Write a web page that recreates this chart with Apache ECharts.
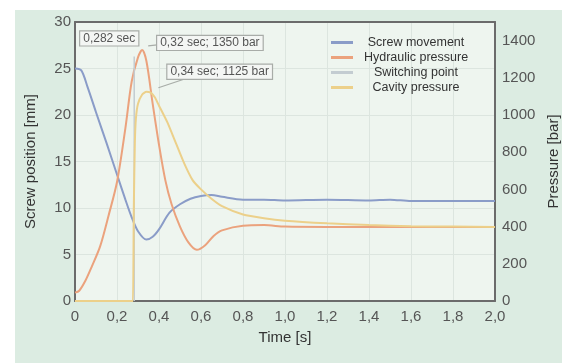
<!DOCTYPE html>
<html>
<head>
<meta charset="utf-8">
<script src="https://cdn.jsdelivr.net/npm/echarts@6/dist/echarts.min.js"></script>
<style>
  html, body { margin: 0; padding: 0; background: #fff; }
  #chart { width: 562px; height: 363px; }
</style>
</head>
<body>
<div id="chart"></div>
<script>
const screwT = [0, 0.03, 0.06, 0.1, 0.15, 0.2, 0.24, 0.27, 0.3, 0.34, 0.37, 0.4, 0.45, 0.5, 0.55, 0.6, 0.65, 0.7, 0.8, 0.9, 1.0, 1.2, 1.4, 1.5, 1.6, 1.8, 2.0];
const screwMm = [25, 24.8, 23, 20.3, 17, 13.6, 10.9, 9.0, 7.5, 6.6, 6.9, 7.7, 9.5, 10.4, 11.0, 11.3, 11.4, 11.2, 10.9, 10.9, 10.8, 10.9, 10.8, 10.9, 10.75, 10.75, 10.75];

const hydT = [0, 0.02, 0.05, 0.08, 0.12, 0.16, 0.2, 0.24, 0.27, 0.3, 0.32, 0.34, 0.37, 0.4, 0.43, 0.46, 0.5, 0.54, 0.58, 0.62, 0.66, 0.7, 0.8, 0.9, 1.0, 1.2, 1.5, 2.0];
const hydBar = [45, 55, 110, 185, 295, 460, 640, 930, 1180, 1310, 1350, 1290, 1060, 840, 650, 520, 400, 315, 275, 300, 350, 380, 405, 408, 400, 398, 398, 398];

const cavT = [0, 0.27, 0.276, 0.28, 0.285, 0.29, 0.3, 0.32, 0.34, 0.36, 0.38, 0.4, 0.44, 0.48, 0.52, 0.56, 0.6, 0.65, 0.7, 0.8, 0.9, 1.0, 1.2, 1.4, 1.6, 1.8, 2.0];
const cavBar = [0, 0, 0, 500, 850, 980, 1060, 1110, 1125, 1120, 1095, 1050, 960, 850, 740, 650, 600, 550, 510, 465, 445, 432, 418, 408, 402, 400, 398];

const switchT = [0.282, 0.282];
const switchMm = [0, 26.3];

const seriesNames = ["Screw movement", "Hydraulic pressure", "Switching point", "Cavity pressure"];
const colors = ["#8a9cc8", "#eba27d", "#c3ccd1", "#ecd08a"];

// callouts: anchor in data coords, box offset and pointer ends in px
const notes = [
  { text: "0,282 sec", t: 0.282, v: 26.3, axis: 0, dx: -54, dy: -25, lx: -8, ly: -11, sx: 46, sy: 14 },
  { text: "0,32 sec; 1350 bar", t: 0.32, v: 1350, axis: 1, dx: 15, dy: -14, lx: 6, ly: -4, sx: 0, sy: 9 },
  { text: "0,34 sec; 1125 bar", t: 0.34, v: 1125, axis: 1, dx: 21, dy: -27, lx: 12, ly: -4, sx: 18, sy: 14 },
];

const zip = (a, b) => a.map((x, i) => [x, b[i]]);
const chart = echarts.init(document.getElementById("chart"));
const commaFmt = (v) => v.toFixed(1).replace(".", ",");
const labelFont = { color: "#555", fontSize: 15, fontFamily: "Liberation Sans" };
const frame = { show: true, lineStyle: { color: "#6b6b6b", width: 2 } };
const panel = { type: "rect", z: -10, silent: true, shape: { x: 15, y: 10, width: 547, height: 353 }, style: { fill: "#dcece2" } };

chart.setOption({
  backgroundColor: "#fff",
  color: colors,
  graphic: [panel],
  grid: {
    left: 75, top: 22, right: 67, bottom: 62,
    outerBoundsMode: "none", containLabel: false,
    show: true, backgroundColor: "#eef5ef", borderWidth: 0,
  },
  legend: {
    orient: "vertical",
    left: 326, top: 31,
    itemGap: 2,
    itemWidth: 22, itemHeight: 3,
    icon: "rect",
    data: seriesNames,
    formatter: "{a|{name}}",
    textStyle: {
      color: "#333", fontSize: 12.5, fontFamily: "Liberation Sans",
      rich: { a: { width: 116, align: "center", fontSize: 12.5, color: "#333" } },
    },
  },
  xAxis: [
    {
      type: "value", min: 0, max: 2, interval: 0.2,
      name: "Time [s]", nameLocation: "middle", nameGap: 29,
      nameTextStyle: { color: "#333", fontSize: 15, fontFamily: "Liberation Sans" },
      axisLine: { ...frame, onZero: false }, axisTick: { show: false },
      axisLabel: { ...labelFont, margin: 8, formatter: (v) => (v === 0 ? "0" : commaFmt(v)) },
      splitLine: { lineStyle: { color: "#dce5df", width: 1 } },
    },
    {
      // top edge of the frame only
      type: "value", position: "top", min: 0, max: 2,
      axisLine: { ...frame, onZero: false }, axisTick: { show: false },
      axisLabel: { show: false }, splitLine: { show: false },
    },
  ],
  yAxis: [
    {
      type: "value", min: 0, max: 30, interval: 5,
      name: "Screw position [mm]", nameLocation: "middle", nameGap: 37,
      nameTextStyle: { color: "#333", fontSize: 15, fontFamily: "Liberation Sans" },
      axisLine: { ...frame, onZero: false }, axisTick: { show: false },
      axisLabel: { ...labelFont, margin: 4 },
      splitLine: { lineStyle: { color: "#dce5df", width: 1 } },
    },
    {
      type: "value", min: 0, max: 1500, interval: 200,
      name: "Pressure [bar]", nameLocation: "middle", nameGap: 42,
      nameTextStyle: { color: "#333", fontSize: 15, fontFamily: "Liberation Sans" },
      axisLine: { ...frame, onZero: false }, axisTick: { show: false },
      axisLabel: { ...labelFont, margin: 7, showMaxLabel: false, formatter: (v) => String(v) },
      splitLine: { show: false },
    },
  ],
  series: [
    {
      name: seriesNames[0], type: "line", yAxisIndex: 0, data: zip(screwT, screwMm),
      symbol: "none", smooth: 0.3, lineStyle: { width: 2 }, z: 3,
    },
    {
      name: seriesNames[1], type: "line", yAxisIndex: 1, data: zip(hydT, hydBar),
      symbol: "none", smooth: 0.3, lineStyle: { width: 2 }, z: 3,
    },
    {
      name: seriesNames[2], type: "line", yAxisIndex: 0, data: zip(switchT, switchMm),
      symbol: "none", lineStyle: { width: 1.5 }, z: 3,
    },
    {
      name: seriesNames[3], type: "line", yAxisIndex: 1, data: zip(cavT, cavBar),
      symbol: "none", smooth: 0.2, lineStyle: { width: 2 }, z: 3,
    },
  ],
});

// place callout boxes relative to their data anchors
const callouts = [];
notes.forEach((n) => {
  const [x, y] = chart.convertToPixel({ xAxisIndex: 0, yAxisIndex: n.axis }, [n.t, n.v]);
  const bx = x + n.dx, by = y + n.dy;
  callouts.push({
    type: "line", z: 99,
    shape: { x1: bx + n.sx, y1: by + n.sy, x2: x + n.lx, y2: y + n.ly },
    style: { stroke: "#a8aca8", lineWidth: 1.2 },
  });
  callouts.push({
    type: "text", z: 100, x: bx, y: by,
    style: {
      text: n.text, fill: "#555", fontSize: 12, fontFamily: "Liberation Sans",
      backgroundColor: "#f4f6f4", borderColor: "#a8aca8", borderWidth: 1.2,
      padding: [1, 3, 1, 3],
    },
  });
});
chart.setOption({ graphic: [panel, ...callouts] });
</script>
</body>
</html>
